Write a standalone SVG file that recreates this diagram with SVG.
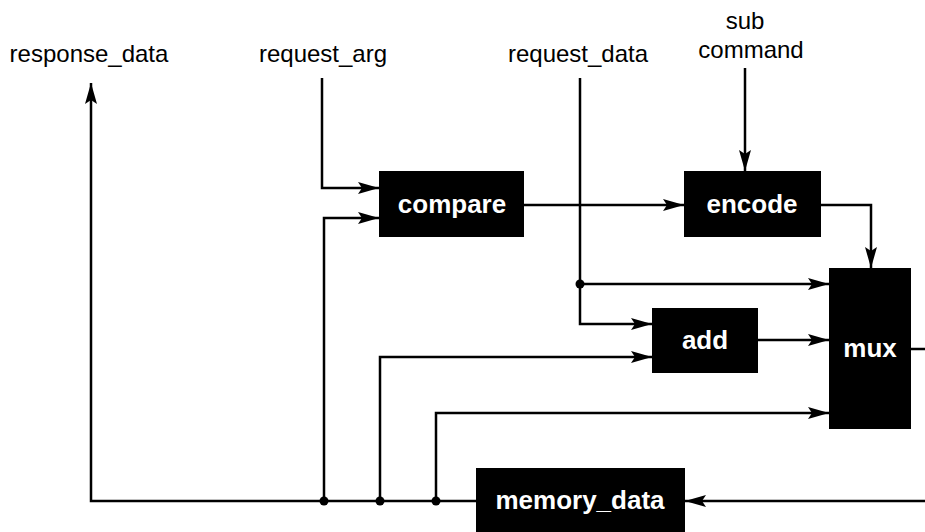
<svg xmlns="http://www.w3.org/2000/svg" width="925" height="532" viewBox="0 0 925 532">
<style>
.lbl{font-family:"Liberation Sans",Arial,sans-serif;font-size:24px;fill:#000;text-anchor:middle}
.box{fill:#000}
.bt{font-family:"Liberation Sans",Arial,sans-serif;font-size:26px;font-weight:bold;fill:#fff;text-anchor:middle;dominant-baseline:central}
.w{fill:none;stroke:#000;stroke-width:2.5}
.a{marker-end:url(#ah)}
</style>
<defs>
<marker id="ah" markerUnits="userSpaceOnUse" markerWidth="22" markerHeight="12" refX="21" refY="6" orient="auto">
<path d="M0,0 L21,6 L0,12 L4,6 Z" fill="#000"/>
</marker>
</defs>
<rect width="925" height="532" fill="#fff"/>
<g id="labels">
<text class="lbl" x="89" y="62">response_data</text>
<text class="lbl" x="323" y="62">request_arg</text>
<text class="lbl" x="578" y="62">request_data</text>
<text class="lbl" x="745" y="29">sub</text>
<text class="lbl" x="751" y="58">command</text>
</g>
<g id="connectors">
<path class="w a" d="M476,501 H91 V83"/>
<path class="w a" d="M324,501 V218 H379"/>
<path class="w a" d="M380,501 V357 H652"/>
<path class="w a" d="M436,501 V413 H829"/>
<path class="w a" d="M322,78 V188 H379"/>
<path class="w a" d="M580,78 V324 H652"/>
<path class="w a" d="M580,284 H829"/>
<path class="w a" d="M524,205 H684"/>
<path class="w a" d="M745,68 V171"/>
<path class="w a" d="M820,205 H871 V268"/>
<path class="w a" d="M758,340 H829"/>
<path class="w" d="M911,349 H925"/>
<path class="w a" d="M925,501 H685"/>
<circle cx="324" cy="501" r="4.5"/>
<circle cx="380" cy="501" r="4.5"/>
<circle cx="436" cy="501" r="4.5"/>
<circle cx="580" cy="284" r="4.5"/>
</g>
<g id="compare"><rect class="box" x="379" y="171" width="145" height="66"/><text class="bt" x="452" y="204">compare</text></g>
<g id="encode"><rect class="box" x="684" y="171" width="137" height="66"/><text class="bt" x="752" y="204">encode</text></g>
<g id="add"><rect class="box" x="652" y="308" width="106" height="65"/><text class="bt" x="705" y="340">add</text></g>
<g id="mux"><rect class="box" x="829" y="268" width="82" height="161"/><text class="bt" x="870" y="348">mux</text></g>
<g id="memory_data"><rect class="box" x="476" y="468" width="209" height="64"/><text class="bt" x="580" y="500">memory_data</text></g>
</svg>
